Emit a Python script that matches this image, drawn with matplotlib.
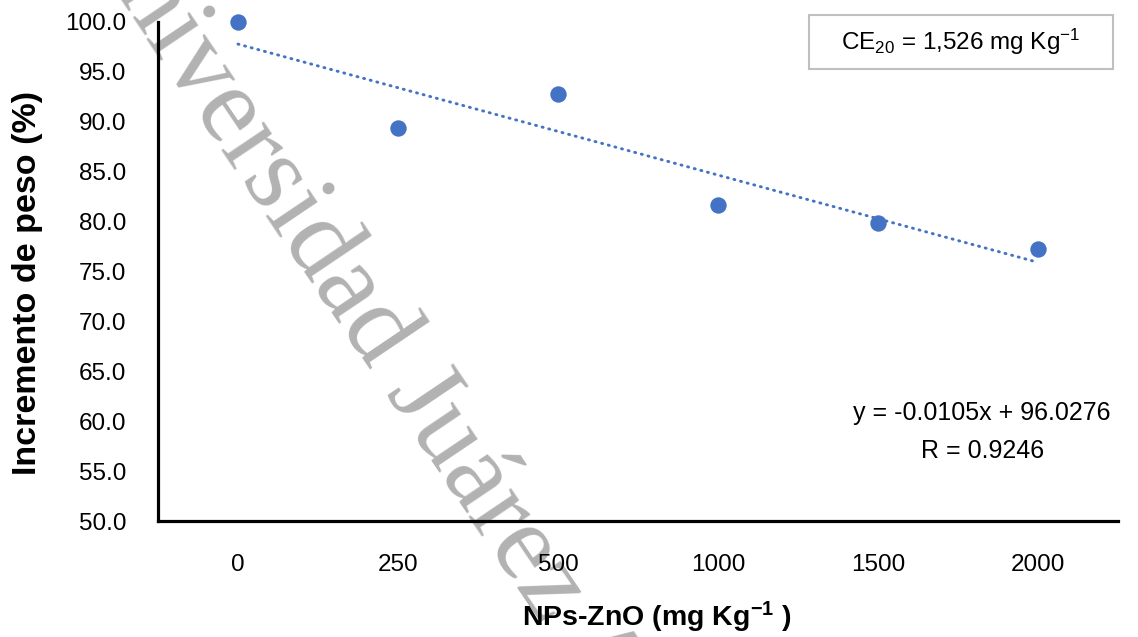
import numpy as np
import matplotlib
matplotlib.use('Agg')
import matplotlib.pyplot as plt
from matplotlib import font_manager
from matplotlib.patches import Rectangle

# datos
dosis = ['0', '250', '500', '1000', '1500', '2000']
incremento = [100.0, 89.4, 92.8, 81.7, 79.9, 77.3]
y_ticks = [50, 55, 60, 65, 70, 75, 80, 85, 90, 95, 100]

ecuacion = 'y = -0.0105x + 96.0276'
r_texto = 'R = 0.9246'
ce_texto = 'CE$_{20}$ = 1,526 mg Kg$^{-1}$'
marca_agua = 'Universidad Juárez Autónoma de Tabasco'

azul = '#4472C4'

plt.rcParams['font.family'] = ['Liberation Sans', 'DejaVu Sans']
plt.rcParams['mathtext.default'] = 'regular'

# fuente angosta para la etiqueta x si existe
try:
    font_manager.findfont(font_manager.FontProperties(family='Liberation Sans Narrow'),
                          fallback_to_default=False)
    xlab_font, xlab_size = 'Liberation Sans Narrow', 25
except Exception:
    xlab_font, xlab_size = 'Liberation Sans', 20.5

fig = plt.figure(figsize=(11.38, 6.37), dpi=100)
ax = fig.add_axes([0.1388, 0.1821, 0.8436, 0.7834])

x = np.arange(len(dosis))
ax.scatter(x, incremento, s=11.8 ** 2, color=azul, zorder=4, clip_on=False, linewidths=0)

# linea de tendencia (ajuste lineal sobre las categorias)
m, b = np.polyfit(x, incremento, 1)
xt = np.array([x[0], x[-1]])
ax.plot(xt, m * xt + b, color=azul, lw=2.1, dashes=(0.35, 2.0),
        dash_capstyle='round', zorder=3)

ax.set_xlim(-0.5, len(dosis) - 0.5)
ax.set_ylim(50, 100)
ax.set_xticks(x)
ax.set_xticklabels(dosis)
ax.set_yticks(y_ticks)
ax.set_yticklabels(['%.1f' % v for v in y_ticks])
ax.tick_params(axis='both', length=0, labelsize=17.5)
ax.tick_params(axis='y', pad=23)
ax.tick_params(axis='x', pad=24)

for s in ['top', 'right']:
    ax.spines[s].set_visible(False)
for s in ['left', 'bottom']:
    ax.spines[s].set_linewidth(2.3)
    ax.spines[s].set_color('black')

ax.set_ylabel('Incremento de peso (%)', fontsize=24.5, fontweight='bold', va='center')
ax.yaxis.set_label_coords(-0.1355, 0.477)
ax.set_xlabel('NPs-ZnO (mg Kg$^{-1}$ )', fontsize=xlab_size, fontweight='bold',
              family=[xlab_font, 'DejaVu Sans'], va='center')
ax.xaxis.set_label_coords(0.52, -0.194)

# marca de agua
ax.text(0.0615, 1.1177, marca_agua, transform=fig.transFigure, rotation=-56,
        rotation_mode='anchor', ha='left', va='baseline', fontsize=79,
        family=['Liberation Serif', 'DejaVu Serif'], color='#b2b2b2',
        zorder=0, clip_on=False)

# ecuacion
fig.text(0.863, 0.3516, ecuacion, ha='center', va='center', fontsize=18)
fig.text(0.863, 0.292, r_texto, ha='center', va='center', fontsize=18)

# recuadro CE20
fig.patches.append(Rectangle((0.7109, 0.8917), 0.2671, 0.0848, transform=fig.transFigure,
                             facecolor='white', edgecolor='#bfbfbf', lw=1.5, zorder=5))
fig.text(0.8445, 0.934, ce_texto, ha='center', va='center', fontsize=17.5, zorder=6)

fig.savefig('out.png', dpi=100)
